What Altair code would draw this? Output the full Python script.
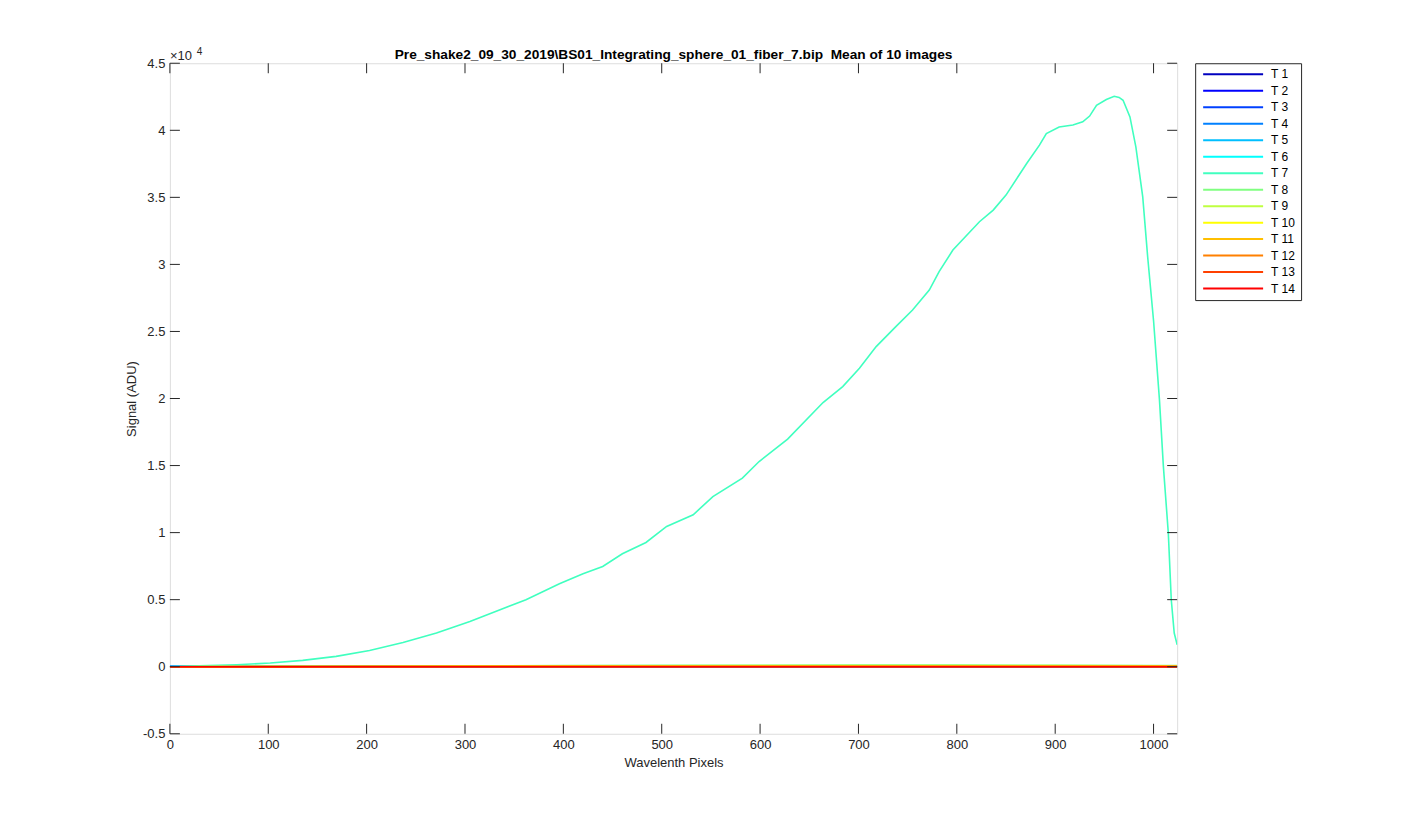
import altair as alt
import pandas as pd

# ---- data ----
series_names = ["T 1", "T 2", "T 3", "T 4", "T 5", "T 6", "T 7",
                "T 8", "T 9", "T 10", "T 11", "T 12", "T 13", "T 14"]
series_colors = ["#0000BF", "#0000FF", "#0040FF", "#0080FF", "#00BFFF", "#00FFFF", "#40FFBF",
                 "#80FF80", "#BFFF40", "#FFFF00", "#FFBF00", "#FF8000", "#FF4000", "#FF0000"]

# Fiber 7 (T 7) spectrum
t7_pixels = [0, 30, 68, 102, 135, 169, 203, 237, 271, 305, 362, 396, 420, 440, 460, 484, 505,
             532, 552, 582, 599, 628, 664, 684, 701, 718, 738, 755, 772, 782, 796, 823, 837, 850,
             871, 884, 891, 904, 918, 928, 935, 942, 952, 960, 965, 969, 976, 982, 989, 994, 1000,
             1006, 1010, 1015, 1018, 1021, 1024]
t7_signal = [0, 60, 150, 275, 470, 770, 1215, 1810, 2510, 3380, 4990, 6185, 6930, 7475, 8420,
             9265, 10460, 11330, 12690, 14060, 15300, 16970, 19700, 20890, 22260, 23870, 25360,
             26600, 28090, 29460, 31070, 33180, 34050, 35170, 37520, 38890, 39760, 40250, 40390,
             40630, 41060, 41870, 42300, 42540, 42450, 42240, 41000, 38760, 35040, 30570, 25800,
             19900, 14920, 9960, 4990, 2510, 1640]

# the other fibers stay near zero
flat_pixels = [0, 100, 200, 300, 400, 500, 600, 700, 800, 900, 1000, 1024]
t1_signal = [20, 15, 10, 8, 6, 5, 5, 5, 5, 5, 5, 5]
t2_signal = [15, 12, 10, 8, 6, 5, 5, 5, 5, 5, 5, 5]
t3_signal = [10, 10, 8, 6, 5, 5, 5, 5, 5, 5, 5, 5]
t4_signal = [10, 8, 6, 5, 5, 5, 5, 5, 5, 5, 5, 5]
t5_signal = [8, 8, 6, 5, 5, 5, 5, 5, 5, 5, 5, 5]
t6_signal = [5, 10, 15, 20, 25, 30, 30, 30, 30, 30, 25, 20]
t8_signal = [0, 20, 40, 60, 80, 100, 110, 120, 120, 110, 90, 80]
t9_signal = [0, 15, 30, 45, 60, 70, 80, 90, 90, 80, 70, 60]
t10_signal = [0, 10, 20, 30, 40, 45, 50, 55, 55, 50, 45, 40]
t11_signal = [0, 8, 15, 20, 25, 30, 30, 30, 30, 30, 25, 20]
t12_signal = [0, 5, 10, 12, 15, 15, 15, 15, 15, 15, 12, 10]
t13_signal = [0, 3, 5, 5, 5, 5, 5, 5, 5, 5, 5, 5]
t14_signal = [0, 0, 0, 0, 0, 0, 0, 0, 0, 0, 0, 0]

x_ticks = [0, 100, 200, 300, 400, 500, 600, 700, 800, 900, 1000]
y_ticks = [-5000, 0, 5000, 10000, 15000, 20000, 25000, 30000, 35000, 40000, 45000]

title_text = "Pre_shake2_09_30_2019\\BS01_Integrating_sphere_01_fiber_7.bip\u00a0 Mean of 10 images"

# ---- build long table ----
flat_map = {
    "T 1": t1_signal, "T 2": t2_signal, "T 3": t3_signal, "T 4": t4_signal,
    "T 5": t5_signal, "T 6": t6_signal, "T 8": t8_signal, "T 9": t9_signal,
    "T 10": t10_signal, "T 11": t11_signal, "T 12": t12_signal, "T 13": t13_signal,
    "T 14": t14_signal,
}
rows = []
for i, name in enumerate(series_names):
    if name == "T 7":
        xs, ys = t7_pixels, t7_signal
    else:
        xs, ys = flat_pixels, flat_map[name]
    for x, y in zip(xs, ys):
        rows.append({"pixel": x, "signal": y, "series": name, "k": i})
df = pd.DataFrame(rows)

W, H = 1008, 671
FONT = "Liberation Sans"
AX = "#262626"

x_scale = alt.Scale(domain=[0, 1024], nice=False, zero=False)
y_scale = alt.Scale(domain=[-5000, 45000], nice=False, zero=False)

x_axis = alt.Axis(values=x_ticks, ticks=False, domain=False, grid=False, labelPadding=5,
                  format="d",
                  labelFontSize=13, labelColor=AX, labelFont=FONT, title="Wavelenth Pixels",
                  titleFontSize=13, titleFontWeight="normal", titleColor=AX, titleFont=FONT,
                  titlePadding=5, labelFlush=False)
y_axis = alt.Axis(values=y_ticks, ticks=False, domain=False, grid=False, labelPadding=5,
                  labelFontSize=13, labelColor=AX, labelFont=FONT,
                  labelExpr="datum.value / 10000", title="Signal (ADU)",
                  titleFontSize=13, titleFontWeight="normal", titleColor=AX, titleFont=FONT,
                  titlePadding=4, labelFlush=False)

lines = alt.Chart(df).mark_line(strokeWidth=1.6, clip=True).encode(
    x=alt.X("pixel:Q", scale=x_scale, axis=x_axis),
    y=alt.Y("signal:Q", scale=y_scale, axis=y_axis),
    color=alt.Color("series:N",
                    scale=alt.Scale(domain=series_names, range=series_colors),
                    legend=alt.Legend(title=None, orient="none", legendX=1026, legendY=0,
                                      symbolType="M-15,0H15", symbolSize=16,
                                      symbolStrokeWidth=2, symbolOffset=27,
                                      labelFontSize=12, labelFont=FONT,
                                      labelColor="#000000", strokeColor=AX, fillColor="white",
                                      padding=5, rowPadding=4.5, labelOffset=32)),
    detail="series:N",
    order="pixel:Q",
)

xt = pd.DataFrame({"v": x_ticks})
yt = pd.DataFrame({"v": y_ticks})
xb = alt.Chart(xt).mark_rule(color=AX, strokeWidth=1).encode(
    x=alt.X("v:Q", scale=x_scale, axis=x_axis), y=alt.value(H), y2=alt.value(H - 10))
xtop = alt.Chart(xt).mark_rule(color=AX, strokeWidth=1).encode(
    x=alt.X("v:Q", scale=x_scale, axis=x_axis), y=alt.value(0), y2=alt.value(10))
yl = alt.Chart(yt).mark_rule(color=AX, strokeWidth=1).encode(
    y=alt.Y("v:Q", scale=y_scale, axis=y_axis), x=alt.value(0), x2=alt.value(10))
yr = alt.Chart(yt).mark_rule(color=AX, strokeWidth=1).encode(
    y=alt.Y("v:Q", scale=y_scale, axis=y_axis), x=alt.value(W), x2=alt.value(W - 10))

exp_df = pd.DataFrame({"t": ["\u00d710"], "s": ["4"]})
exp_main = alt.Chart(exp_df).mark_text(align="left", baseline="alphabetic", fontSize=13,
                                       font=FONT, color=AX).encode(
    text="t:N", x=alt.value(0), y=alt.value(-3))
exp_sup = alt.Chart(exp_df).mark_text(align="left", baseline="alphabetic", fontSize=10,
                                      font=FONT, color=AX).encode(
    text="s:N", x=alt.value(27), y=alt.value(-8))

chart = alt.layer(lines, xb, xtop, yl, yr, exp_main, exp_sup).properties(
    width=W, height=H,
    title=alt.TitleParams(title_text, fontSize=13.7, fontWeight="bold", font=FONT,
                          color="#000000", anchor="middle", offset=-14),
    autosize=alt.AutoSizeParams(type="none"),
    padding={"left": 162, "top": 55, "right": 240, "bottom": 80},
).configure_view(stroke=AX, strokeWidth=1.2).configure(background="white")

chart.save("out.html", embed_options={"renderer": "svg", "actions": False})
